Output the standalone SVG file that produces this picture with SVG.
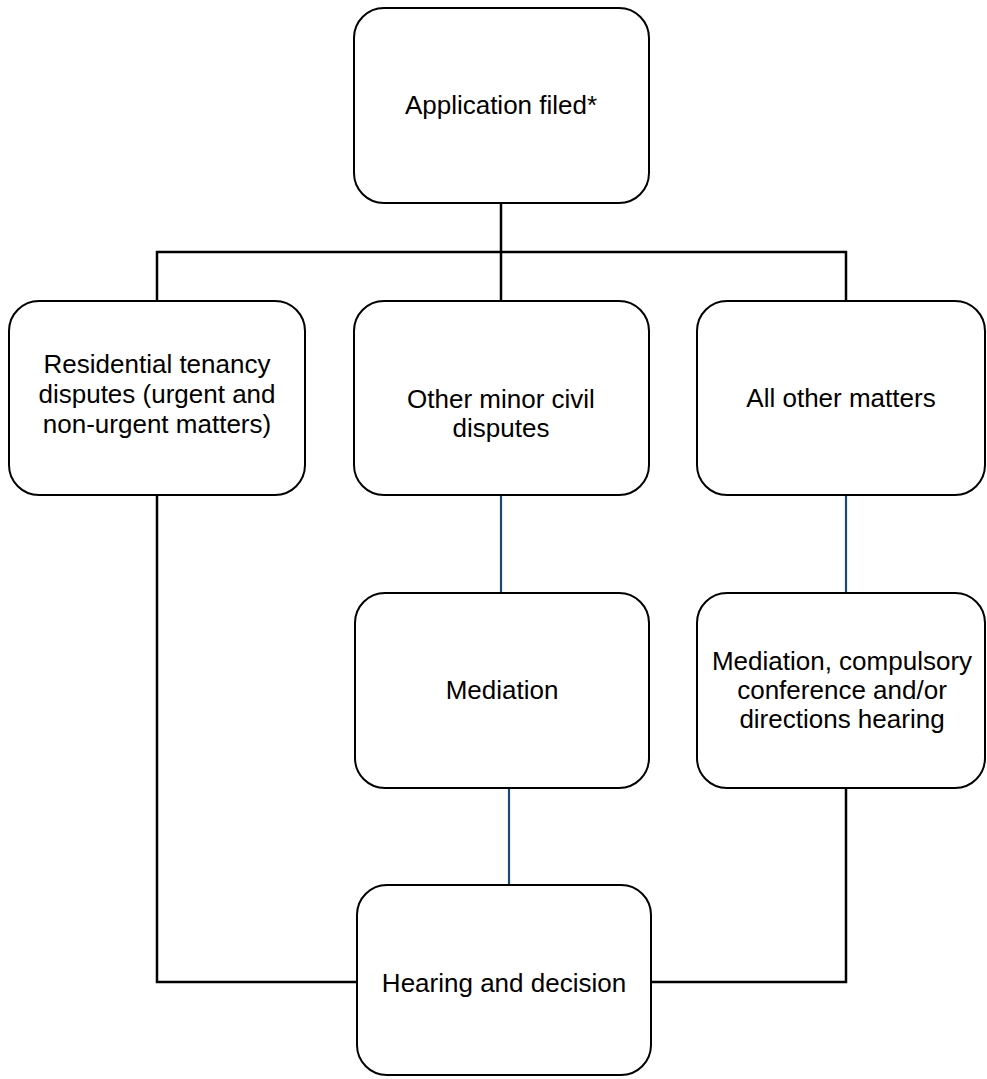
<svg xmlns="http://www.w3.org/2000/svg" width="987" height="1079" viewBox="0 0 987 1079">
<style>
.box{fill:#fff;stroke:#000;stroke-width:2}
.t{font-family:"Liberation Sans",Arial,sans-serif;font-size:26px;fill:#000;text-anchor:middle}
.k{fill:none;stroke:#000;stroke-width:2.5}
.b{fill:none;stroke:#1b4a72;stroke-width:2.2}
</style>
<rect width="987" height="1079" fill="#fff"/>
<g id="connectors">
<path class="k" d="M501,203 V301 M157,301 V252 H846 V301"/>
<path class="k" d="M157,495 V982 H357"/>
<path class="b" d="M501,495 V593"/>
<path class="b" d="M846,495 V593"/>
<path class="b" d="M509,788 V885"/>
<path class="k" d="M846,788 V982 H651"/>
</g>
<g id="application">
<rect class="box" x="354" y="8" width="295" height="195" rx="30"/>
<text class="t" x="501" y="114">Application filed*</text>
</g>
<g id="residential">
<rect class="box" x="9" y="301" width="296" height="194" rx="30"/>
<text class="t" x="157" y="373">Residential tenancy</text>
<text class="t" x="157" y="403">disputes (urgent and</text>
<text class="t" x="157" y="433">non-urgent matters)</text>
</g>
<g id="minor">
<rect class="box" x="354" y="301" width="295" height="194" rx="30"/>
<text class="t" x="501" y="408">Other minor civil</text>
<text class="t" x="501" y="437">disputes</text>
</g>
<g id="other">
<rect class="box" x="697" y="301" width="288" height="194" rx="30"/>
<text class="t" x="841" y="407">All other matters</text>
</g>
<g id="mediation">
<rect class="box" x="355" y="593" width="294" height="195" rx="30"/>
<text class="t" x="502" y="699">Mediation</text>
</g>
<g id="conference">
<rect class="box" x="697" y="593" width="288" height="195" rx="30"/>
<text class="t" x="842" y="670">Mediation, compulsory</text>
<text class="t" x="842" y="699">conference and/or</text>
<text class="t" x="842" y="728">directions hearing</text>
</g>
<g id="hearing">
<rect class="box" x="357" y="885" width="294" height="190" rx="30"/>
<text class="t" x="504" y="992">Hearing and decision</text>
</g>
</svg>
